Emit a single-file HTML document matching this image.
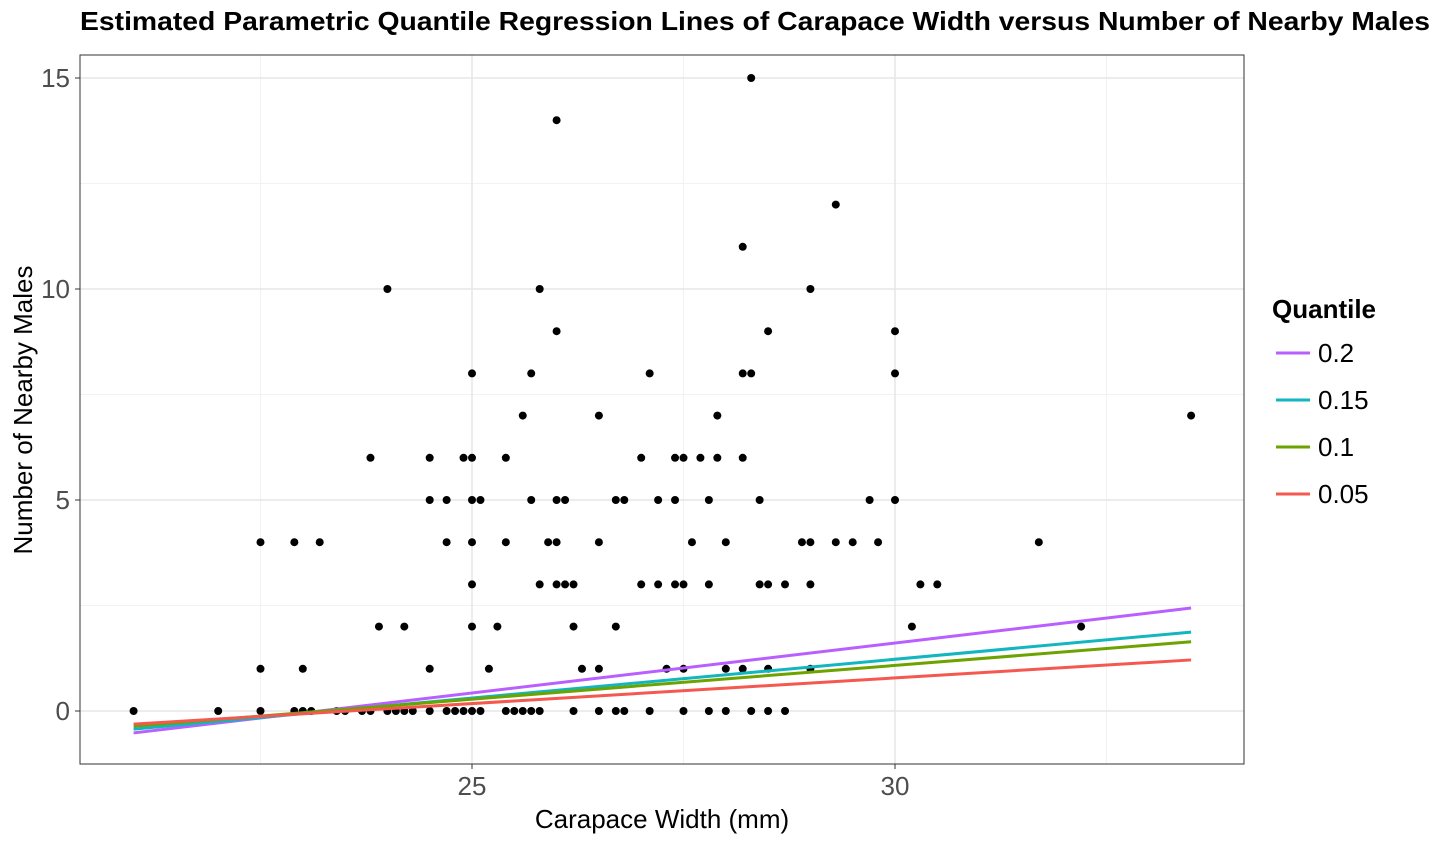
<!DOCTYPE html>
<html><head><meta charset="utf-8"><style>
body{margin:0;background:#fff;}
svg text{font-family:"Liberation Sans",Arial,sans-serif;}
</style></head><body>
<svg id="chart" width="1440" height="840" xmlns="http://www.w3.org/2000/svg">
<text x="80" y="30" font-size="26" font-weight="bold" fill="#000" textLength="1350" lengthAdjust="spacingAndGlyphs">Estimated Parametric Quantile Regression Lines of Carapace Width versus Number of Nearby Males</text>
<g id="grid"></g><g id="marks"></g><g id="axes"></g>
<text x="662" y="828" font-size="26" text-anchor="middle" fill="#000">Carapace Width (mm)</text>
<text transform="translate(32,410) rotate(-90)" font-size="26" text-anchor="middle" fill="#000">Number of Nearby Males</text>
<g id="legend"></g>
</svg>
<script>
const widths=[21.0,22.0,22.5,22.5,22.5,22.9,22.9,23.0,23.0,23.1,23.2,23.4,23.5,23.7,23.8,23.8,23.9,24.0,24.0,24.1,24.2,24.2,24.3,24.5,24.5,24.5,24.5,24.7,24.7,24.7,24.8,24.9,24.9,25.0,25.0,25.0,25.0,25.0,25.0,25.0,25.1,25.1,25.2,25.3,25.4,25.4,25.4,25.5,25.6,25.6,25.7,25.7,25.7,25.8,25.8,25.8,25.9,26.0,26.0,26.0,26.0,26.0,26.1,26.1,26.2,26.2,26.2,26.3,26.5,26.5,26.5,26.5,26.7,26.7,26.7,26.8,26.8,27.0,27.0,27.1,27.1,27.2,27.2,27.3,27.4,27.4,27.4,27.5,27.5,27.5,27.5,27.6,27.7,27.8,27.8,27.8,27.9,27.9,28.0,28.0,28.0,28.2,28.2,28.2,28.2,28.3,28.3,28.3,28.4,28.4,28.5,28.5,28.5,28.5,28.7,28.7,28.9,29.0,29.0,29.0,29.0,29.3,29.3,29.5,29.7,29.8,30.0,30.0,30.0,30.2,30.3,30.5,31.7,32.2,33.5];
const males=[0,0,4,1,0,4,0,1,0,0,4,0,0,0,0,6,2,0,10,0,0,2,0,0,1,5,6,4,5,0,0,6,0,6,5,4,3,2,0,8,5,0,1,2,6,4,0,0,0,7,0,5,8,0,3,10,4,14,9,5,4,3,3,5,3,2,0,1,7,4,1,0,5,2,0,5,0,6,3,8,0,5,3,1,6,5,3,6,3,1,0,4,6,5,3,0,7,6,4,1,0,11,8,6,1,15,8,0,5,3,9,3,1,0,3,0,4,10,4,3,1,12,4,4,5,4,9,8,5,2,3,3,4,2,7];
const quantiles=["0.2","0.15","0.1","0.05"];
const lineStartX=[21.0,21.0,21.0,21.0];
const lineEndX=[33.5,33.5,33.5,33.5];
const lineStartY=[-0.52,-0.43,-0.36,-0.31];
const lineEndY=[2.44,1.87,1.64,1.21];
const colors=["#B95FFF","#12B6BE","#6CA300","#F4584F"];
const xTicks=[25,30], yTicks=[0,5,10,15];
const xMinor=[22.5,27.5,32.5], yMinor=[2.5,7.5,12.5];
const NS="http://www.w3.org/2000/svg";
const L=80,R=1244,T=55,B=764;
const xs=v=>472+(v-25)*84.6;
const ys=v=>711-v*42.2;
function el(t,a,p){const e=document.createElementNS(NS,t);for(const k in a)e.setAttribute(k,a[k]);document.getElementById(p).appendChild(e);return e;}
xMinor.forEach(v=>{const e=el('line',{x1:xs(v),x2:xs(v),y1:T,y2:B,stroke:'#f2f2f2','stroke-width':1},'grid');});
yMinor.forEach(v=>{const e=el('line',{x1:L,x2:R,y1:ys(v),y2:ys(v),stroke:'#f2f2f2','stroke-width':1},'grid');});
xTicks.forEach(v=>{const e=el('line',{x1:xs(v),x2:xs(v),y1:T,y2:B,stroke:'#e6e6e6','stroke-width':1.5},'grid');
 const t=el('text',{x:xs(v),y:795,'font-size':26,'text-anchor':'middle',fill:'#4d4d4d'},'axes');t.textContent=v;
 el('line',{x1:xs(v),x2:xs(v),y1:B,y2:B+5,stroke:'#333'},'axes');});
yTicks.forEach(v=>{const e=el('line',{x1:L,x2:R,y1:ys(v),y2:ys(v),stroke:'#e6e6e6','stroke-width':1.5},'grid');
 const t=el('text',{x:70,y:ys(v)+9,'font-size':26,'text-anchor':'end',fill:'#4d4d4d'},'axes');t.textContent=v;
 el('line',{x1:L-5,x2:L,y1:ys(v),y2:ys(v),stroke:'#333'},'axes');});
const border=el('rect',{x:L,y:T,width:R-L,height:B-T,fill:'none',stroke:'#333','stroke-width':1},'axes');

widths.forEach((w,i)=>{const c=el('circle',{cx:xs(w),cy:ys(males[i]),r:4,fill:'#000'},'marks');});
quantiles.forEach((q,i)=>{const l=el('line',{x1:xs(lineStartX[i]),y1:ys(lineStartY[i]),x2:xs(lineEndX[i]),y2:ys(lineEndY[i]),stroke:colors[i],'stroke-width':3},'marks');
 
 const y=353+i*47;
 const k=el('line',{x1:1276,x2:1310,y1:y,y2:y,stroke:colors[i],'stroke-width':3},'legend');
 const t=el('text',{x:1318,y:y+9,'font-size':26,fill:'#000'},'legend');t.textContent=q;});
const lt=el('text',{x:1272,y:318,'font-size':26,'font-weight':'bold',fill:'#000'},'legend');lt.textContent='Quantile';

</script>
</body></html>
